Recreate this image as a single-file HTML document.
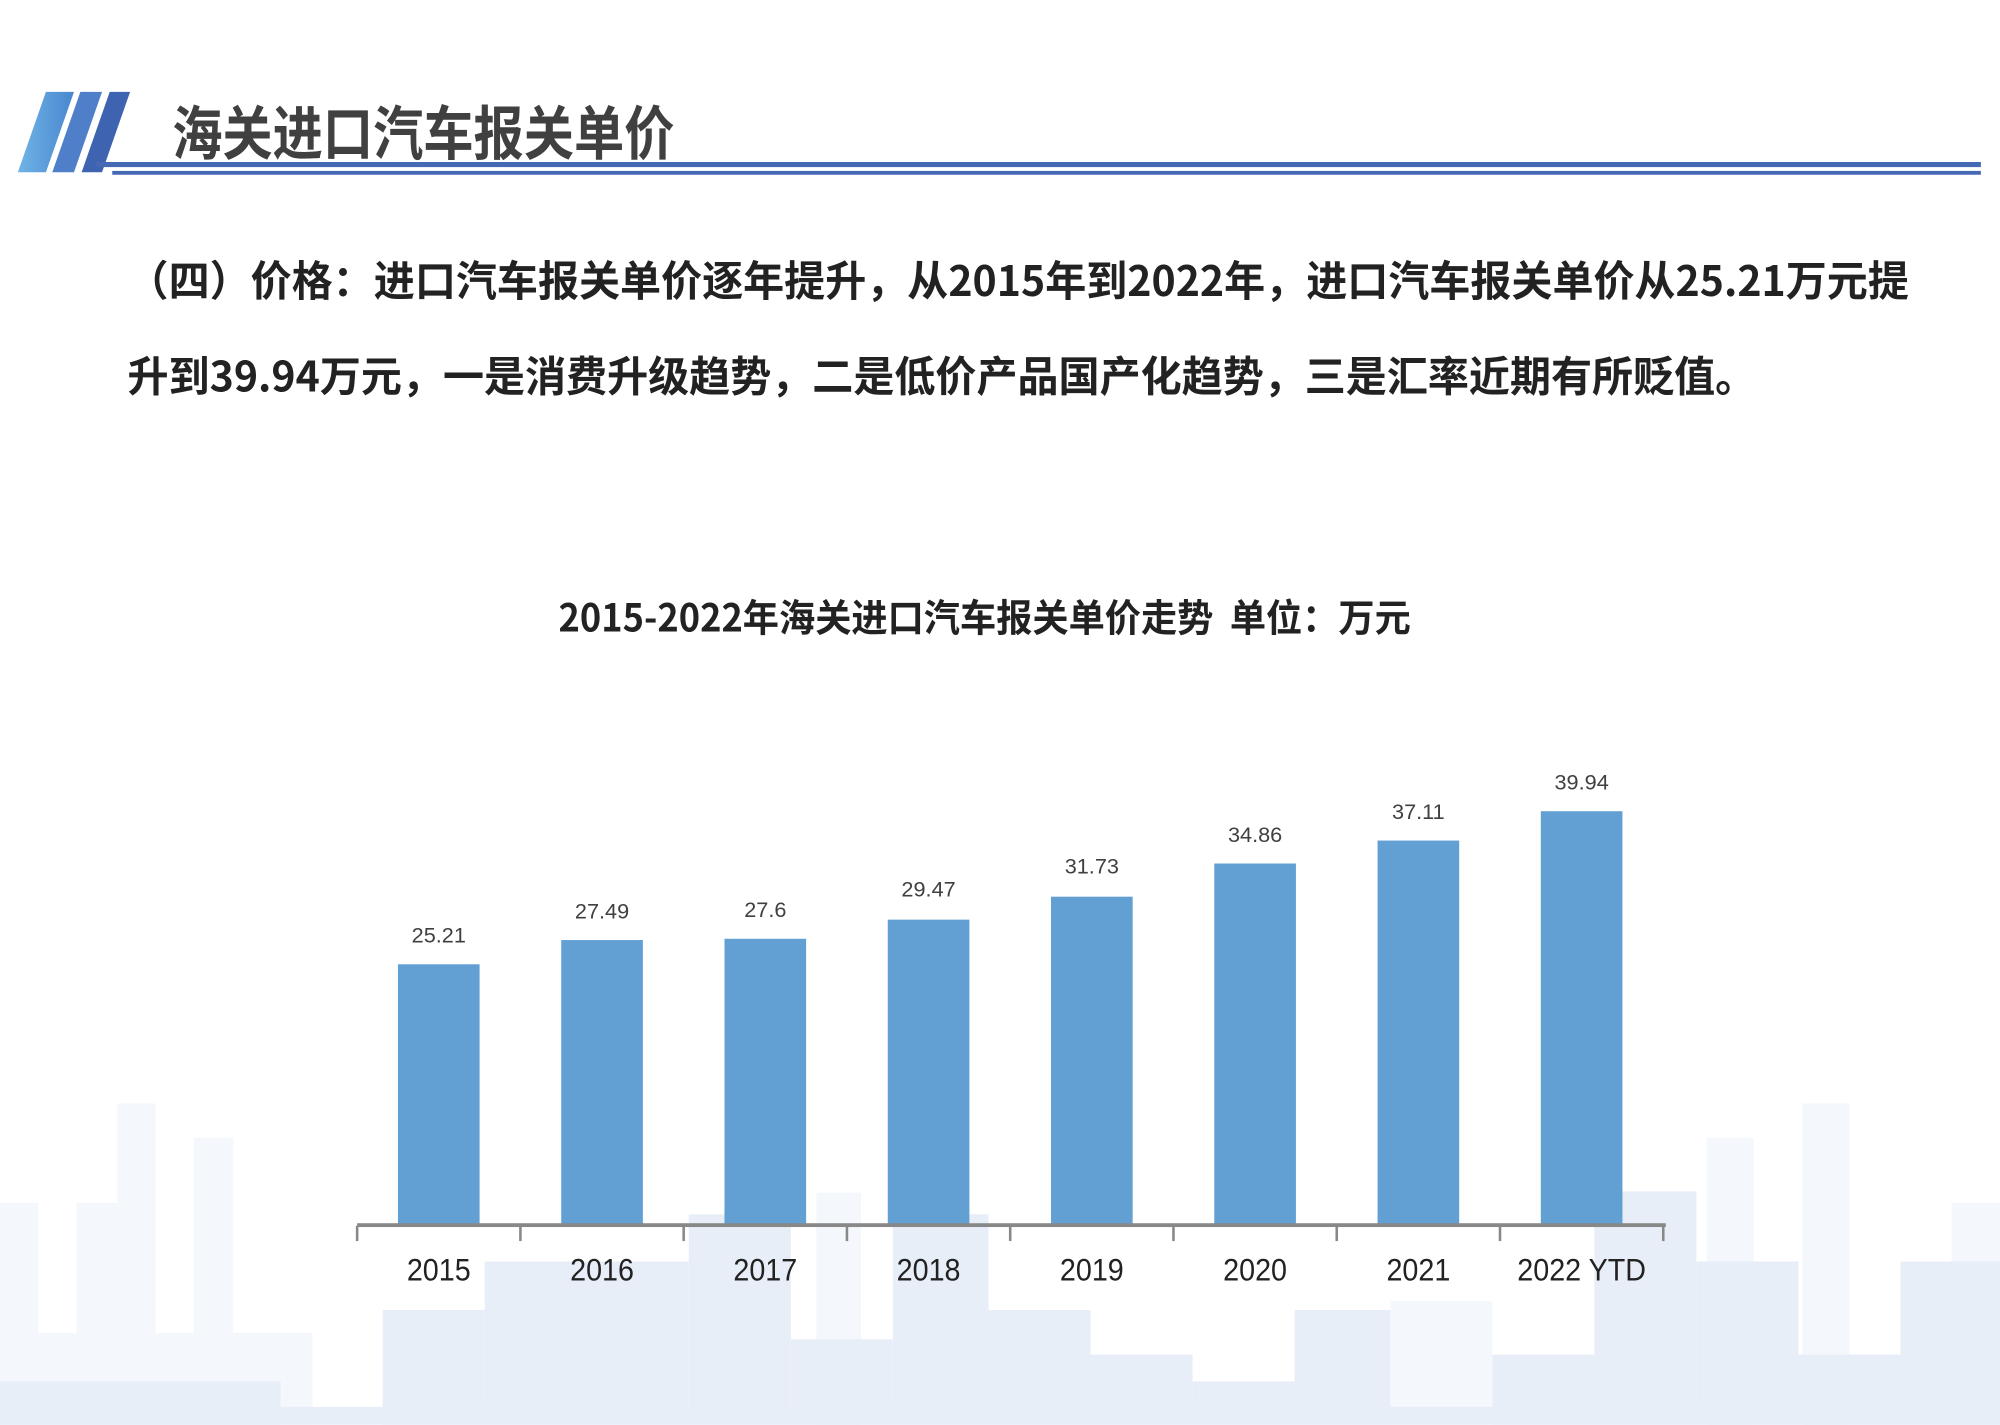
<!DOCTYPE html>
<html><head><meta charset="utf-8"><style>
html,body{margin:0;padding:0;background:#fff;}
#w{width:2000px;height:1425px;overflow:hidden;position:relative;}
#s{position:absolute;left:0;top:0;width:1568px;height:1117px;transform:scale(1.27551);transform-origin:0 0;font-family:"Liberation Sans","Noto Sans CJK SC",sans-serif;}
.r{position:absolute;}
.p{background:#f4f7fc;}
.m{background:#e8eef8;}
.bar{position:absolute;width:64px;background:#629fd3;bottom:156px;}
.v{position:absolute;width:100px;text-align:center;font-size:17px;color:#404040;}
.x{position:absolute;width:128px;text-align:center;font-size:25px;color:#222;top:982px;transform:scaleX(0.9);}
.t{position:absolute;width:2px;height:12px;background:#888;top:961px;}
.txt{position:absolute;left:100px;font-size:33px;font-weight:bold;color:#222;white-space:nowrap;font-family:"Noto Sans CJK SC",sans-serif;transform:scaleX(0.975);transform-origin:0 0;}
</style></head><body><div id="w"><div id="s">
<!-- skyline -->
<div class="r p" style="left:92px;top:865px;width:30px;height:252px"></div>
<div class="r p" style="left:152px;top:892px;width:31px;height:225px"></div>
<div class="r p" style="left:0;top:943px;width:30px;height:174px"></div>
<div class="r p" style="left:60px;top:943px;width:32px;height:174px"></div>
<div class="r p" style="left:30px;top:1045px;width:215px;height:72px"></div>
<div class="r p" style="left:640px;top:935px;width:35px;height:182px"></div>
<div class="r p" style="left:1338px;top:892px;width:37px;height:225px"></div>
<div class="r p" style="left:1413px;top:865px;width:37px;height:252px"></div>
<div class="r p" style="left:1530px;top:943px;width:38px;height:174px"></div>
<div class="r p" style="left:1090px;top:1020px;width:80px;height:97px"></div>
<div class="r m" style="left:0;top:1083px;width:220px;height:34px"></div>
<div class="r m" style="left:300px;top:1027px;width:80px;height:90px"></div>
<div class="r m" style="left:380px;top:989px;width:160px;height:128px"></div>
<div class="r m" style="left:540px;top:952px;width:80px;height:165px"></div>
<div class="r m" style="left:620px;top:1050px;width:80px;height:67px"></div>
<div class="r m" style="left:700px;top:952px;width:75px;height:165px"></div>
<div class="r m" style="left:775px;top:1027px;width:80px;height:90px"></div>
<div class="r m" style="left:855px;top:1062px;width:80px;height:55px"></div>
<div class="r m" style="left:935px;top:1083px;width:80px;height:34px"></div>
<div class="r m" style="left:1015px;top:1027px;width:75px;height:90px"></div>
<div class="r m" style="left:1170px;top:1062px;width:80px;height:55px"></div>
<div class="r m" style="left:1250px;top:934px;width:80px;height:183px"></div>
<div class="r m" style="left:1330px;top:989px;width:80px;height:128px"></div>
<div class="r m" style="left:1410px;top:1062px;width:80px;height:55px"></div>
<div class="r m" style="left:1490px;top:989px;width:78px;height:128px"></div>
<div class="r m" style="left:0;top:1103px;width:1568px;height:14px"></div>
<!-- header -->
<svg class="r" style="left:0;top:0" width="1568" height="150">
<defs><linearGradient id="g" x1="0" x2="1"><stop offset="0" stop-color="#6fb4e6"/><stop offset="1" stop-color="#4a86cf"/></linearGradient></defs>
<polygon points="36,72 58,72 36,135 14,135" fill="url(#g)"/>
<polygon points="63,72 80,72 58,135 41,135" fill="#4f7fc8"/>
<polygon points="86,72 102,72 80,135 64,135" fill="#3e63b0"/>
<rect x="75" y="127" width="1478" height="4" fill="#4569b5"/>
<rect x="88" y="134" width="1465" height="3" fill="#4569b5"/>
</svg>
<div class="r" style="left:135px;top:72px;font-size:46px;font-weight:bold;color:#404040;font-family:'Noto Sans CJK SC',sans-serif;line-height:60px;transform:scaleX(0.856);transform-origin:0 0;white-space:nowrap;">海关进口汽车报关单价</div>
<div class="txt" style="top:193px;line-height:50px;">（四）价格：进口汽车报关单价逐年提升，从2015年到2022年，进口汽车报关单价从25.21万元提</div>
<div class="txt" style="top:268px;line-height:50px;">升到39.94万元，一是消费升级趋势，二是低价产品国产化趋势，三是汇率近期有所贬值。</div>
<div class="r" style="left:372px;width:800px;text-align:center;top:462px;font-size:30px;font-weight:bold;color:#222;font-family:'Noto Sans CJK SC',sans-serif;line-height:40px;transform:scaleX(0.946);white-space:nowrap;">2015-2022年海关进口汽车报关单价走势&nbsp;&nbsp;单位：万元</div>
<!-- bars -->
<div class="bar" style="left:312px;height:205px"></div>
<div class="bar" style="left:440px;height:224px"></div>
<div class="bar" style="left:568px;height:225px"></div>
<div class="bar" style="left:696px;height:240px"></div>
<div class="bar" style="left:824px;height:258px"></div>
<div class="bar" style="left:952px;height:284px"></div>
<div class="bar" style="left:1080px;height:302px"></div>
<div class="bar" style="left:1208px;height:325px"></div>
<div class="v" style="left:294px;top:724px">25.21</div>
<div class="v" style="left:422px;top:705px">27.49</div>
<div class="v" style="left:550px;top:704px">27.6</div>
<div class="v" style="left:678px;top:688px">29.47</div>
<div class="v" style="left:806px;top:670px">31.73</div>
<div class="v" style="left:934px;top:645px">34.86</div>
<div class="v" style="left:1062px;top:627px">37.11</div>
<div class="v" style="left:1190px;top:604px">39.94</div>
<div class="r" style="left:280px;top:959px;width:1026px;height:3px;background:#888"></div>
<div class="t" style="left:279px"></div><div class="t" style="left:407px"></div><div class="t" style="left:535px"></div><div class="t" style="left:663px"></div><div class="t" style="left:791px"></div><div class="t" style="left:919px"></div><div class="t" style="left:1047px"></div><div class="t" style="left:1175px"></div><div class="t" style="left:1303px"></div>
<div class="x" style="left:280px">2015</div>
<div class="x" style="left:408px">2016</div>
<div class="x" style="left:536px">2017</div>
<div class="x" style="left:664px">2018</div>
<div class="x" style="left:792px">2019</div>
<div class="x" style="left:920px">2020</div>
<div class="x" style="left:1048px">2021</div>
<div class="x" style="left:1176px">2022 YTD</div>
</div></div></body></html>
